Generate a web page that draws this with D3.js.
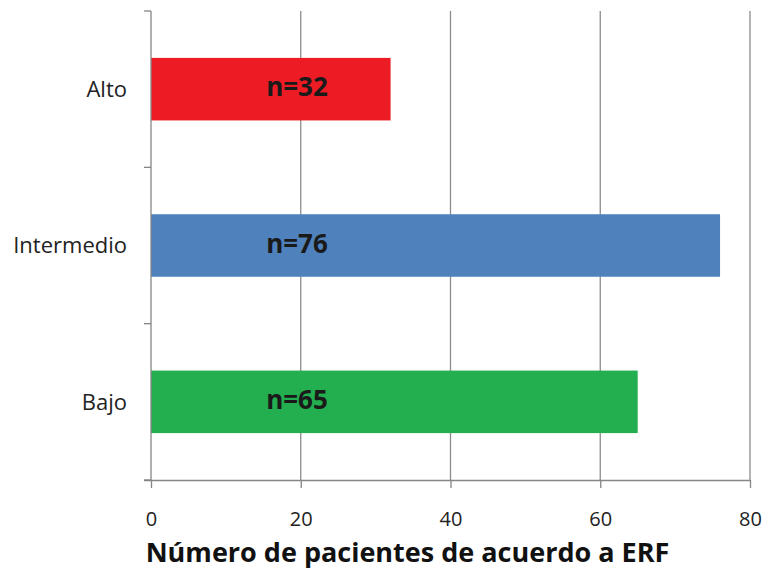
<!DOCTYPE html>
<html>
<head>
<meta charset="utf-8">
<script src="https://cdn.jsdelivr.net/npm/d3@7"></script>
<style>
  html, body { margin: 0; padding: 0; background: #fff; }
  svg { display: block; }
  text { font-family: "Open Sans", "Noto Sans", sans-serif; }
</style>
</head>
<body>
<svg id="chart" width="767" height="572"></svg>
<script>
// Patients by ERF risk level
const categories = ["Alto", "Intermedio", "Bajo"];
const values = [32, 76, 65];
const barLabels = ["n=32", "n=76", "n=65"];
const colors = ["#ED1C24", "#4F81BD", "#23AE4F"];
const xTicks = [0, 20, 40, 60, 80];
const xTitle = "Número de pacientes de acuerdo a ERF";

const svg = d3.select("#chart");
const plotLeft = 151, plotRight = 750, plotTop = 11, plotBottom = 480;

const x = d3.scaleLinear().domain([0, 80]).range([plotLeft, plotRight]);
const y = d3.scaleBand().domain(categories).range([plotTop, plotBottom]).paddingInner(0.6).paddingOuter(0.3);

// vertical gridlines
svg.append("g").selectAll("line")
  .data(xTicks.filter(d => d > 0))
  .join("line")
  .attr("x1", d => x(d)).attr("x2", d => x(d))
  .attr("y1", plotTop).attr("y2", plotBottom)
  .attr("stroke", "#8c8c8c").attr("stroke-width", 1.3);

// bars
svg.append("g").selectAll("rect")
  .data(categories)
  .join("rect")
  .attr("x", x(0))
  .attr("y", d => y(d))
  .attr("width", (d, i) => x(values[i]) - x(0))
  .attr("height", y.bandwidth())
  .attr("fill", (d, i) => colors[i]);

// value labels inside bars
const labelAt = 19.5;
svg.append("g").selectAll("text")
  .data(categories)
  .join("text")
  .attr("x", x(labelAt))
  .attr("y", d => y(d) + y.bandwidth() / 2 - 2)
  .attr("dy", "0.35em")
  .attr("text-anchor", "middle")
  .attr("font-size", 26)
  .attr("font-weight", "bold")
  .attr("fill", "#1a1a1a")
  .text((d, i) => barLabels[i]);

// x axis
const xAxis = d3.axisBottom(x).tickValues(xTicks).tickSize(8).tickPadding(24).tickFormat(d3.format("d"));
const gx = svg.append("g").attr("transform", `translate(0,${plotBottom})`).call(xAxis);
gx.select(".domain").attr("stroke", "#868686").attr("stroke-width", 1.3)
  .attr("d", `M${plotLeft - 7},0.5H${plotRight}`);
gx.selectAll(".tick line").attr("stroke", "#868686").attr("stroke-width", 1.3);
gx.selectAll(".tick text").attr("font-size", 20).attr("fill", "#222")
  .attr("font-family", "'Open Sans', sans-serif");

// y axis with ticks at band boundaries
const gy = svg.append("g");
gy.append("line")
  .attr("x1", plotLeft).attr("x2", plotLeft)
  .attr("y1", plotTop).attr("y2", plotBottom)
  .attr("stroke", "#868686").attr("stroke-width", 1.3);
const bounds = [plotTop].concat(categories.map(c => y(c) - y.step() * y.paddingInner() / 2 + y.step()));
gy.selectAll("line.tk")
  .data(bounds)
  .join("line")
  .attr("class", "tk")
  .attr("x1", plotLeft - 7).attr("x2", plotLeft)
  .attr("y1", d => d).attr("y2", d => d)
  .attr("stroke", "#868686").attr("stroke-width", 1.3);
gy.selectAll("text")
  .data(categories)
  .join("text")
  .attr("x", 127)
  .attr("y", d => y(d) + y.bandwidth() / 2)
  .attr("dy", "0.35em")
  .attr("text-anchor", "end")
  .attr("font-size", 22)
  .attr("fill", "#222")
  .text(d => d);

// axis title
svg.append("text")
  .attr("x", (plotLeft + 668) / 2 - 2)
  .attr("y", 553)
  .attr("dy", "0.35em")
  .attr("text-anchor", "middle")
  .attr("font-size", 27)
  .attr("font-weight", "bold")
  .attr("fill", "#111")
  .text(xTitle);
</script>
</body>
</html>
